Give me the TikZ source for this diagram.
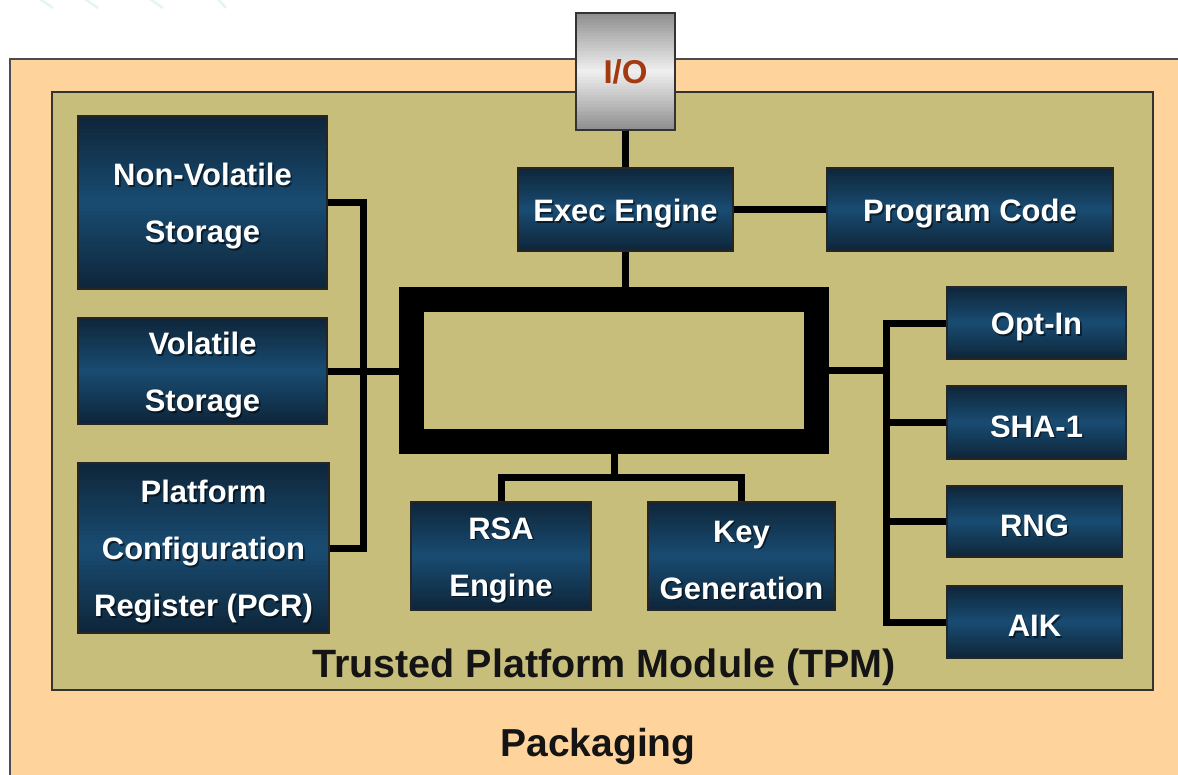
\documentclass[tikz,border=0pt]{standalone}
\usepackage{fontspec}
\setmainfont{Liberation Sans}
\usetikzlibrary{calc}
\definecolor{peach}{HTML}{FFD39C}
\definecolor{khaki}{HTML}{C8BE7C}
\definecolor{boxedge}{HTML}{0E2539}
\definecolor{boxmid}{HTML}{194C72}
\definecolor{ioedge}{HTML}{8E8E8E}
\definecolor{iomid}{HTML}{F0F0F0}
\definecolor{iotext}{HTML}{A33A10}
\definecolor{mint}{HTML}{E3F6EF}
\begin{document}
\begin{tikzpicture}[x=1pt,y=-1pt,
  % vertical gradient: edge colour at top and bottom, lighter in the middle
  vgrad/.style 2 args={path picture={
    \foreach \i in {0,...,39}{
      \pgfmathsetmacro\p{100*abs(1-2*(\i+0.5)/40)}
      \fill[#1!\p!#2]
        ($(path picture bounding box.north west)!\i/40!(path picture bounding box.south west)$)
        rectangle
        ($(path picture bounding box.north east)!{(\i+1.4)/40}!(path picture bounding box.south east)$);
    }}},
  unittext/.style={align=center, inner sep=0pt, font=\bfseries\fontsize{31}{57}\selectfont},
  % a dark box whose caption (#1) sits slightly below centre, with a soft drop shadow
  unit/.style={rectangle, draw=black!85, line width=1.2pt, inner sep=0pt,
    vgrad={boxedge}{boxmid},
    label={[unittext, text=black, opacity=0.55, xshift=1.6pt, yshift=-5.6pt]center:{#1}},
    label={[unittext, text=white, yshift=-4pt]center:{#1}}},
  wire/.style={draw=black, line width=7pt, line join=miter},
  title/.style={font=\bfseries\fontsize{39.5}{44}\selectfont, text=black!92}]

% page area
\clip (0,0) rectangle (1178,774);
\fill[white] (0,0) rectangle (1178,774);

% faint streaks along the top edge
\foreach \a/\b in {40/53, 85/98, 150/163, 218/226}
  \draw[mint, line width=2.5pt] (\a,-1) -- (\b,8);

% packaging and module outlines
\draw[fill=peach, draw=black!70, line width=2pt] (10,59) rectangle (1200,800);
\draw[fill=khaki, draw=black!80, line width=2pt] (52,92) rectangle (1153,690);

% I/O port
\node[rectangle, draw=black!80, line width=1.2pt, minimum width=99, minimum height=117,
  vgrad={ioedge}{iomid},
  text=iotext, font=\bfseries\fontsize{33}{36}\selectfont] (io) at (625.5,71.5) {I/O};

% functional units
\node[unit={Exec Engine}, minimum width=215, minimum height=83] (exec) at (625.5,209.5) {};
\node[unit={Program Code}, minimum width=286, minimum height=83] (prog) at (970,209.5) {};

\node[unit={Non-Volatile\\Storage}, minimum width=249, minimum height=173] (nv) at (202.5,202.5) {};
\node[unit={Volatile\\Storage}, minimum width=249, minimum height=106] (vs) at (202.5,371) {};
\node[unit={Platform\\Configuration\\Register (PCR)}, minimum width=251, minimum height=170] (pcr) at (203.5,548) {};

\node[unit={RSA\\Engine}, minimum width=180, minimum height=108] (rsa) at (501,556) {};
\node[unit={Key\\Generation}, minimum width=187, minimum height=108] (kg) at (741.5,556) {};

\node[unit={Opt-In}, minimum width=179, minimum height=72] (opt) at (1036.5,323) {};
\node[unit={SHA-1}, minimum width=179, minimum height=73] (sha) at (1036.5,422.5) {};
\node[unit={RNG}, minimum width=175, minimum height=71] (rng) at (1034.5,521.5) {};
\node[unit={AIK}, minimum width=175, minimum height=72] (aik) at (1034.5,622) {};

% central bus frame
\node[rectangle, draw=black, line width=25pt, minimum width=405, minimum height=142,
  inner sep=0pt] (core) at (614,370.5) {};

% connectors
\draw[wire] (io.south) -- (exec.north);
\draw[wire] (exec.east) -- (prog.west);
\draw[wire] (exec.south) -- (exec.south |- core.north);

\draw[wire] (nv.east) -- ++(36,0) |- (pcr.east);
\draw[wire] (vs.east) -- (vs.east -| core.west);

\draw[wire] (core.south) -- ++(0,23) coordinate (split);
\draw[wire] (rsa.north) |- (split) -| (kg.north);

\draw[wire] (core.east) -- ++(58,0);
\draw[wire] (opt.west) -- ++(-60,0) |- (aik.west);
\draw[wire] (sha.west) -- ++(-60,0);
\draw[wire] (rng.west) -- ++(-60,0);

% captions
\node[title] (tpm) at (604,667) {Trusted Platform Module (TPM)};
\node[title, font=\bfseries\fontsize{39}{44}\selectfont] (pkg) at (598,746) {Packaging};
\end{tikzpicture}
\end{document}
